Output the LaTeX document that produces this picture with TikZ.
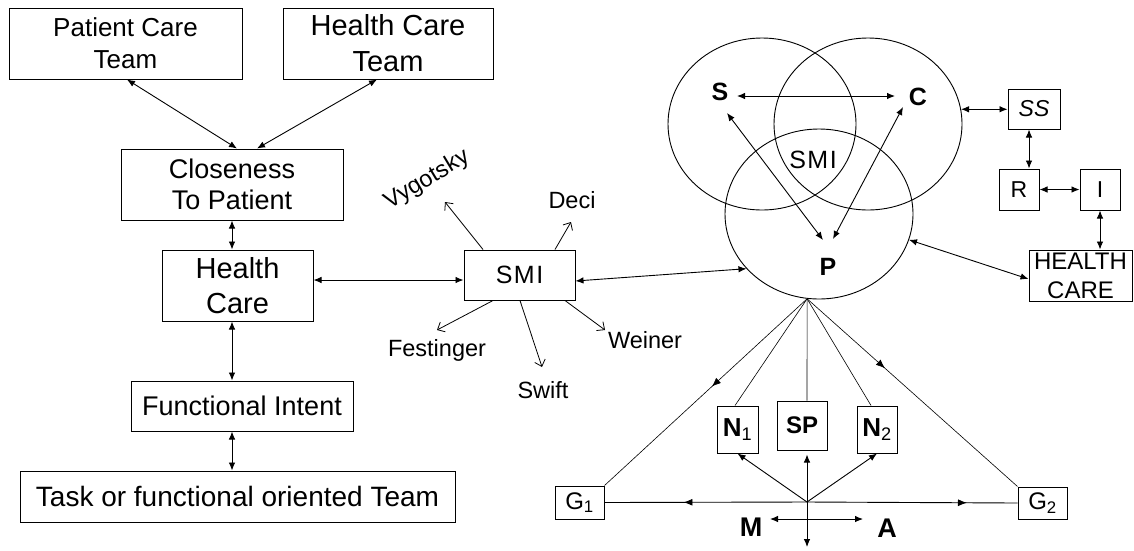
\documentclass[tikz,border=0pt]{standalone}
\usepackage{fontspec}
\setmainfont{Liberation Sans}
\usetikzlibrary{arrows.meta,decorations.markings,shapes.geometric}
\newcommand\fsz[2]{\fontsize{#1}{#2}\selectfont}
\begin{document}
\begin{tikzpicture}[x=1pt,y=-1pt,
  box/.style={draw,line width=1pt,inner sep=0pt,align=center},
  twoway/.style={line width=0.9pt,{Latex[length=8pt,width=6.5pt]}-{Latex[length=8pt,width=6.5pt]}},
  oneway/.style={line width=0.9pt,-{Latex[length=8pt,width=6.5pt]}},
  theory/.style={line width=0.8pt,-{Straight Barb[length=6pt,width=11pt]}},
  fine/.style={line width=0.6pt},
  ring/.style={draw,ellipse,line width=0.9pt,minimum width=188,minimum height=172,inner sep=0pt},
  midtip/.style={postaction={decorate},decoration={markings,mark=at position #1 with {\arrow{Latex[length=9pt,width=7pt]}}}},
  lbl/.style={inner sep=0pt}]
\path[fill=white,use as bounding box] (0,0) rectangle (1134,550);

% left column of boxes
\node[box,minimum width=233,minimum height=71,font=\fsz{26}{32}] (pct) at (125.5,43.5) {Patient Care\\Team};
\node[box,minimum width=210,minimum height=71,font=\fsz{29}{36}] (hct) at (388,43.5) {Health Care\\Team};
\node[box,minimum width=222,minimum height=71,font=\fsz{27}{31}] (ctp) at (232,184.5) {Closeness\\To Patient};
\node[box,minimum width=151,minimum height=71,font=\fsz{29}{35}] (hc) at (237.5,285.5) {Health\\Care};
\node[box,minimum width=222,minimum height=50,font=\fsz{27}{31}] (fi) at (242,406) {Functional Intent};
\node[box,minimum width=435,minimum height=51,font=\fsz{28}{34}] (task) at (237.5,496.5) {Task or functional oriented Team};

% SMI and its theorists
\node[box,minimum width=111,minimum height=50,font=\fsz{25}{28}] (smi) at (519.5,275) {S\kern1.5pt M\kern1.5pt I};
\node[lbl,font=\fsz{23.5}{28},rotate=31] (vyg) at (427,180) {Vygotsky};
\node[lbl,font=\fsz{23.5}{28}] (deci) at (572,200) {Deci};
\node[lbl,font=\fsz{23.5}{28}] (fest) at (437,350) {Festinger};
\node[lbl,font=\fsz{23.5}{28}] (swift) at (543,390) {Swift};
\node[lbl,font=\fsz{23.5}{28}] (wein) at (645,340) {Weiner};

% three overlapping circles
\node[ring] (cS) at (762,124) {};
\node[ring] (cC) at (868,124) {};
\node[ring,minimum height=170] (cP) at (819,214) {};
\node[lbl,font=\fsz{25}{30}\bfseries] (lS) at (720,92) {S};
\node[lbl,font=\fsz{25}{30}\bfseries] (lC) at (918,97) {C};
\node[lbl,font=\fsz{25}{28}] (lSMI) at (813,160) {S\kern1.5pt M\kern1.5pt I};
\node[lbl,font=\fsz{25}{30}\bfseries] (lP) at (828,267) {P};

% support boxes on the right
\node[box,minimum width=52,minimum height=40,font=\fsz{23}{28}\itshape] (ss) at (1034,109) {SS};
\node[box,minimum width=40,minimum height=41,font=\fsz{23}{28}] (r) at (1019,189.5) {R};
\node[box,minimum width=40,minimum height=41,font=\fsz{23}{28}] (i) at (1100,189.5) {I};
\node[box,minimum width=103,minimum height=51,font=\fsz{24}{29}] (hc2) at (1080.5,275.5) {HEALTH\\CARE};

% lower triangle
\node[box,minimum width=41,minimum height=47,font=\fsz{26}{30}] (n1) at (737.5,429.5) {\textbf{N}\textsubscript{1}};
\node[box,minimum width=50,minimum height=49,font=\fsz{24}{28}\bfseries] (sp) at (802,425.5) {SP};
\node[box,minimum width=40,minimum height=47,font=\fsz{26}{30}] (n2) at (877,429.5) {\textbf{N}\textsubscript{2}};
\node[box,minimum width=49,minimum height=33,font=\fsz{24}{28}] (g1) at (579.5,502.5) {G\textsubscript{1}};
\node[box,minimum width=49,minimum height=32,font=\fsz{24}{28}] (g2) at (1042.5,503) {G\textsubscript{2}};
\node[lbl,font=\fsz{27}{30}\bfseries] (lM) at (751,527) {M};
\node[lbl,font=\fsz{27}{30}\bfseries] (lA) at (887,528) {A};
\coordinate (apex) at (cP.-98);
\coordinate (hub) at (807,502);
\coordinate (bot) at (807,547);

% left column connectors
\draw[twoway] ([xshift=1.5]pct.south) -- ([xshift=5]ctp.north);
\draw[twoway] ([xshift=-11]hct.south) -- ([xshift=25]ctp.north);
\draw[twoway] (ctp.south) -- (ctp.south |- hc.north);
\draw[twoway] ([xshift=-5.5]hc.south) -- ([xshift=-5.5]hc.south |- fi.north);
\draw[twoway] ([xshift=-10]fi.south) -- ([xshift=-10]fi.south |- task.north);
\draw[twoway] ([yshift=5.5]hc.east) -- ([yshift=5.5]hc.east -| smi.west);
\draw[twoway] ([yshift=-6]smi.east) -- (cP.217);

% theorist pointers
\draw[theory] ([xshift=-36.5]smi.north) -- ([xshift=18,yshift=-22]vyg.center);
\draw[theory] ([xshift=35.5]smi.north) -- ([xshift=-1,yshift=-22]deci.center);
\draw[theory] ([xshift=-26.5]smi.south) -- ([yshift=20]fest.center);
\draw[theory] ([xshift=0.5]smi.south) -- ([xshift=-1,yshift=23]swift.center);
\draw[theory] ([xshift=45.5]smi.south) -- ([xshift=-40,yshift=10]wein.center);

% inside the circles
\draw[twoway] ([xshift=17,yshift=-4]lS.center) -- ([xshift=-23,yshift=1]lC.center);
\draw[twoway] ([xshift=7,yshift=-21]lS.center) -- ([xshift=-5,yshift=27]lP.center);
\draw[twoway] ([xshift=-15,yshift=-10]lC.center) -- ([xshift=5,yshift=28]lP.center);

% right-hand chain
\draw[twoway] (cC.9) -- (cC.9 -| ss.west);
\draw[twoway] ([xshift=-5]ss.south) -- ([xshift=-5]ss.south |- r.north);
\draw[twoway] (r.east) -- (i.west);
\draw[twoway] (i.south) -- (i.south |- hc2.north);
\draw[twoway] (cP.-16) -- ([yshift=-3.5]hc2.west);

% triangle below P
\draw[fine] (apex) -- ([xshift=-2.5]n1.north);
\draw[fine] (apex) -- ([xshift=5]sp.north);
\draw[fine] (apex) -- ([xshift=-6]n2.north);
\draw[fine,midtip=0.47] (apex) -- (g1.north east);
\draw[fine,midtip=0.37] (apex) -- (g2.north west);
\draw[line width=0.9pt,midtip=0.61] (hub) -- (g1.east);
\draw[line width=0.9pt,midtip=0.76] (hub) -- (g2.west);
\draw[oneway] (hub) -- (n1.south);
\draw[oneway] (hub) -- (n2.south);
\draw[twoway] (bot) -- ([xshift=5,yshift=-4]sp.south);
\draw[twoway] ([xshift=19,yshift=8]lM.center) -- ([xshift=-24,yshift=9]lA.center);
\end{tikzpicture}
\end{document}
